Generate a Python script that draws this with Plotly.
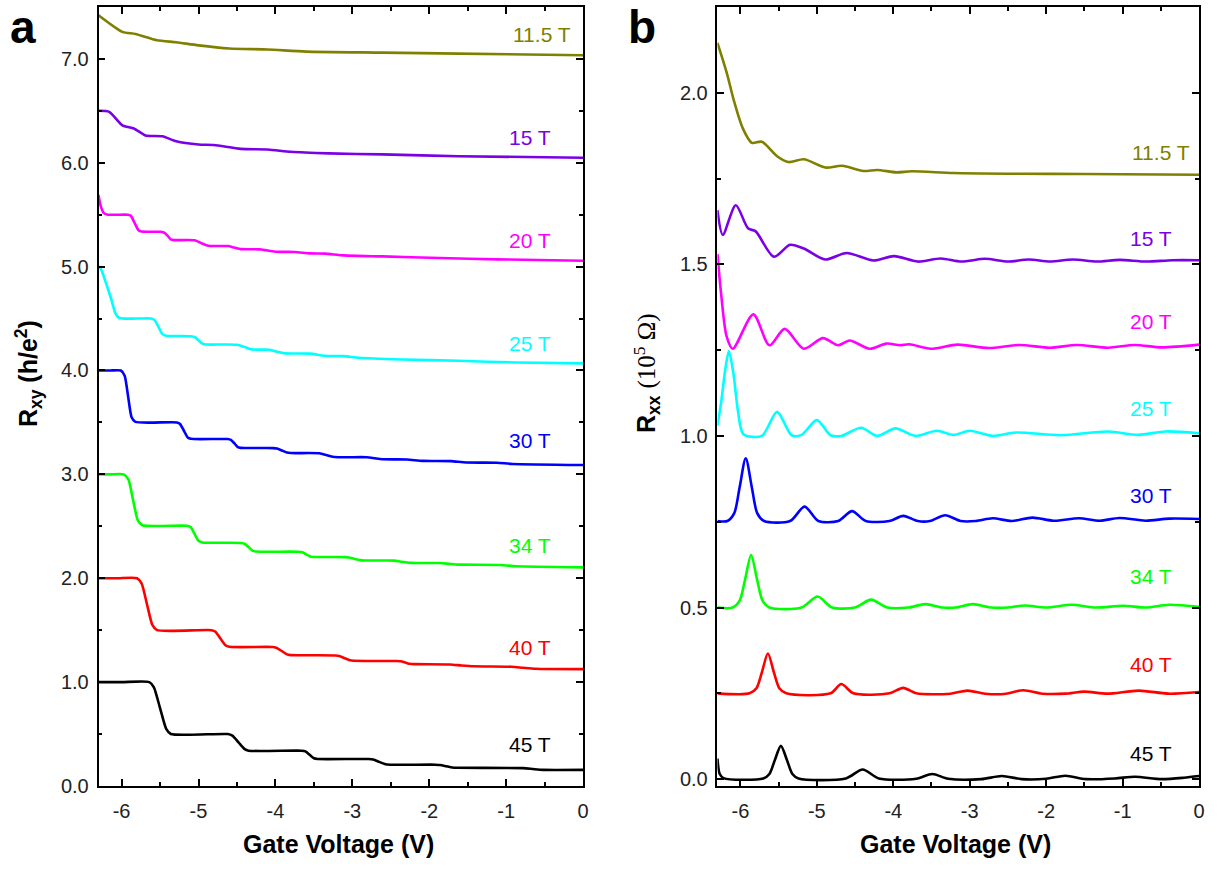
import plotly.graph_objects as go

# ---------------- Panel a : Rxy (h/e^2), offset curves ----------------
fields = ["11.5 T", "15 T", "20 T", "25 T", "30 T", "34 T", "40 T", "45 T"]
colors = ["#808000", "#7a00e6", "#ff00ff", "#00ffff", "#0000ff", "#00ff00", "#ff0000", "#000000"]

Va_115 = [-6.3, -5.99, -5.82, -5.54, -5.29, -5.0, -4.6, -4.1, -3.6, -2.61, -1.62, 0.0]
Ra_115 = [7.42, 7.26, 7.24, 7.18, 7.16, 7.13, 7.10, 7.09, 7.07, 7.06, 7.05, 7.035]

Va_15 = [-6.3, -6.16, -5.99, -5.84, -5.69, -5.47, -5.29, -5.0, -4.8, -4.45, -4.1, -3.8, -3.31, -2.61, -1.62, 0.0]
Ra_15 = [6.50, 6.49, 6.36, 6.33, 6.263, 6.255, 6.206, 6.175, 6.17, 6.133, 6.128, 6.105, 6.09, 6.08, 6.063, 6.048]

Va_20 = [-6.3, -6.27, -6.23, -6.18, -5.92, -5.88, -5.83, -5.78, -5.74, -5.49, -5.44, -5.40, -5.36, -5.32,
         -5.05, -4.96, -4.87, -4.62, -4.535, -4.45, -4.20, -4.00, -3.75, -3.55, -3.36, -3.11, -2.61, -1.86, -1.12, 0.0]
Ra_20 = [5.69, 5.58, 5.515, 5.50, 5.50, 5.49, 5.42, 5.35, 5.337, 5.335, 5.325, 5.295, 5.262, 5.255,
         5.253, 5.225, 5.20, 5.198, 5.183, 5.168, 5.166, 5.143, 5.141, 5.127, 5.125, 5.108, 5.098, 5.083, 5.07, 5.057]

Va_25 = [-6.3, -6.27, -6.22, -6.14, -6.08, -6.03, -5.80, -5.62, -5.57, -5.52, -5.47, -5.42,
         -5.10, -5.05, -5.00, -4.95, -4.90, -4.50, -4.40, -4.30, -4.08, -3.98, -3.88,
         -3.55, -3.36, -3.11, -2.91, -2.36, -1.62, -0.87, 0.0]
Ra_25 = [5.0, 4.98, 4.88, 4.70, 4.55, 4.505, 4.50, 4.50, 4.485, 4.42, 4.35, 4.335,
         4.33, 4.322, 4.29, 4.258, 4.25, 4.248, 4.225, 4.202, 4.20, 4.18, 4.165,
         4.162, 4.142, 4.138, 4.122, 4.106, 4.093, 4.077, 4.068]

Va_30 = [-6.3, -6.15, -6.01, -5.96, -5.915, -5.87, -5.82, -5.28, -5.24, -5.19, -5.14, -5.10,
         -4.62, -4.58, -4.535, -4.49, -4.45, -4.03, -3.98, -3.915, -3.85, -3.80,
         -3.43, -3.33, -3.23, -2.81, -2.71, -2.61, -2.29, -2.09, -1.72, -1.52, -1.12, -0.92, 0.0]
Ra_30 = [4.0, 4.0, 4.0, 3.95, 3.75, 3.55, 3.505, 3.50, 3.485, 3.42, 3.355, 3.342,
         3.34, 3.332, 3.30, 3.263, 3.255, 3.253, 3.248, 3.23, 3.21, 3.205,
         3.203, 3.185, 3.167, 3.165, 3.155, 3.145, 3.143, 3.13, 3.127, 3.114, 3.112, 3.10, 3.09]

Va_34 = [-6.3, -6.15, -5.97, -5.91, -5.85, -5.79, -5.73, -5.15, -5.10, -5.05, -5.00, -4.95,
         -4.45, -4.40, -4.35, -4.30, -4.25, -3.70, -3.65, -3.60, -3.55, -3.50,
         -3.08, -2.98, -2.88, -2.46, -2.36, -2.26, -1.86, -1.74, -1.62, -1.07, -0.87, 0.0]
Ra_34 = [3.0, 3.0, 3.0, 2.95, 2.75, 2.56, 2.51, 2.505, 2.49, 2.425, 2.36, 2.345,
         2.34, 2.332, 2.30, 2.265, 2.257, 2.255, 2.25, 2.23, 2.21, 2.205,
         2.203, 2.188, 2.172, 2.17, 2.159, 2.148, 2.146, 2.138, 2.131, 2.128, 2.115, 2.105]

Va_40 = [-6.3, -6.05, -5.80, -5.74, -5.67, -5.60, -5.54, -4.83, -4.78, -4.715, -4.65, -4.60,
         -4.04, -3.99, -3.92, -3.85, -3.80, -3.22, -3.17, -3.10, -3.03, -2.98,
         -2.42, -2.37, -2.31, -2.25, -2.20, -1.73, -1.58, -1.42, -0.93, -0.78, -0.62, 0.0]
Ra_40 = [2.0, 2.0, 2.0, 1.95, 1.75, 1.55, 1.5, 1.5, 1.485, 1.42, 1.355, 1.34,
         1.338, 1.33, 1.30, 1.267, 1.26, 1.257, 1.252, 1.23, 1.21, 1.205,
         1.203, 1.20, 1.188, 1.176, 1.173, 1.17, 1.16, 1.152, 1.148, 1.138, 1.128, 1.125]

Va_45 = [-6.3, -6.0, -5.64, -5.58, -5.50, -5.42, -5.36, -4.62, -4.56, -4.48, -4.40, -4.35,
         -3.66, -3.61, -3.555, -3.50, -3.45, -2.79, -2.73, -2.65, -2.57, -2.51,
         -1.92, -1.86, -1.78, -1.70, -1.64, -0.78, -0.65, -0.52, 0.0]
Ra_45 = [1.0, 1.0, 1.0, 0.95, 0.75, 0.55, 0.5, 0.5, 0.485, 0.42, 0.355, 0.34,
         0.34, 0.333, 0.30, 0.267, 0.26, 0.26, 0.255, 0.232, 0.21, 0.205,
         0.205, 0.202, 0.19, 0.178, 0.175, 0.172, 0.163, 0.155, 0.155]

# label positions panel a (x, y)
lab_a_x = [-0.53, -0.69, -0.69, -0.69, -0.69, -0.69, -0.69, -0.69]
lab_a_y = [7.23, 6.24, 5.25, 4.26, 3.33, 2.32, 1.33, 0.40]

# ---------------- Panel b : Rxx (1e5 Ohm), offset curves ----------------
Vb_115 = [-6.3, -6.18, -6.08, -5.97, -5.85, -5.72, -5.52, -5.37, -5.17, -4.89, -4.67, -4.39, -4.21, -3.96, -3.76, -3.21, -2.5, -1.5, 0.0]
Rb_115 = [2.145, 2.059, 1.973, 1.897, 1.854, 1.857, 1.815, 1.798, 1.806, 1.782, 1.787, 1.772, 1.775, 1.768, 1.771, 1.766, 1.764, 1.763, 1.761]

Vb_15 = [-6.3, -6.23, -6.06, -5.90, -5.80, -5.56, -5.35, -5.17, -4.89, -4.61, -4.26, -3.99, -3.68, -3.38, -3.11, -2.80, -2.50, -2.23, -1.95, -1.65, -1.34, -1.04, -0.69, -0.35, 0.0]
Rb_15 = [1.658, 1.586, 1.672, 1.605, 1.596, 1.522, 1.557, 1.546, 1.514, 1.533, 1.511, 1.524, 1.508, 1.517, 1.508, 1.516, 1.508, 1.514, 1.508, 1.514, 1.508, 1.513, 1.508, 1.512, 1.512]

Vb_20 = [-6.3, -6.25, -6.18, -6.10, -5.83, -5.62, -5.42, -5.17, -4.92, -4.72, -4.57, -4.31, -4.09, -3.91, -3.79, -3.51, -3.16, -2.75, -2.35, -1.95, -1.60, -1.19, -0.84, -0.49, 0.0]
Rb_20 = [1.53, 1.41, 1.29, 1.254, 1.354, 1.264, 1.312, 1.254, 1.285, 1.264, 1.278, 1.254, 1.269, 1.264, 1.267, 1.254, 1.266, 1.256, 1.265, 1.257, 1.265, 1.257, 1.265, 1.258, 1.266]

Vb_25 = [-6.3, -6.25, -6.20, -6.15, -6.09, -6.03, -5.96, -5.72, -5.52, -5.33, -5.20, -5.00, -4.82, -4.68, -4.42, -4.21, -3.97, -3.71, -3.43, -3.21, -3.00, -2.70, -2.40, -1.80, -1.19, -0.80, -0.44, 0.0]
Rb_25 = [1.03, 1.10, 1.19, 1.247, 1.18, 1.07, 1.005, 1.0, 1.07, 1.002, 1.003, 1.046, 1.002, 1.0, 1.024, 1.0, 1.022, 1.0, 1.015, 1.003, 1.015, 1.0, 1.01, 1.002, 1.013, 1.003, 1.013, 1.008]

Vb_30 = [-6.3, -6.17, -6.08, -6.01, -5.93, -5.85, -5.78, -5.69, -5.35, -5.16, -4.98, -4.72, -4.54, -4.36, -4.05, -3.87, -3.68, -3.52, -3.32, -3.12, -2.92, -2.70, -2.45, -2.18, -1.90, -1.57, -1.30, -1.04, -0.70, -0.39, 0.0]
Rb_30 = [0.752, 0.752, 0.775, 0.85, 0.935, 0.85, 0.775, 0.752, 0.752, 0.794, 0.752, 0.752, 0.781, 0.752, 0.752, 0.767, 0.752, 0.752, 0.769, 0.752, 0.752, 0.76, 0.752, 0.762, 0.753, 0.76, 0.753, 0.761, 0.753, 0.759, 0.758]

Vb_34 = [-6.3, -6.10, -6.01, -5.94, -5.86, -5.78, -5.71, -5.62, -5.20, -4.99, -4.80, -4.50, -4.29, -4.08, -3.80, -3.58, -3.36, -3.18, -2.96, -2.72, -2.50, -2.28, -2.0, -1.67, -1.35, -0.99, -0.70, -0.39, 0.0]
Rb_34 = [0.5, 0.5, 0.52, 0.58, 0.653, 0.58, 0.52, 0.5, 0.5, 0.532, 0.5, 0.5, 0.523, 0.5, 0.5, 0.51, 0.5, 0.5, 0.51, 0.5, 0.5, 0.506, 0.5, 0.508, 0.5, 0.505, 0.5, 0.508, 0.502]

Vb_40 = [-6.3, -5.88, -5.79, -5.72, -5.64, -5.56, -5.49, -5.40, -4.82, -4.68, -4.52, -4.05, -3.87, -3.70, -3.25, -3.03, -2.80, -2.55, -2.30, -2.05, -1.75, -1.50, -1.20, -0.79, -0.40, 0.0]
Rb_40 = [0.25, 0.25, 0.265, 0.31, 0.366, 0.31, 0.265, 0.25, 0.25, 0.277, 0.25, 0.25, 0.266, 0.25, 0.249, 0.258, 0.249, 0.248, 0.259, 0.249, 0.249, 0.255, 0.249, 0.258, 0.249, 0.254]

Vb_45 = [-6.3, -6.27, -6.22, -5.70, -5.62, -5.55, -5.47, -5.39, -5.32, -5.24, -4.62, -4.40, -4.19, -3.70, -3.49, -3.28, -2.85, -2.58, -2.32, -2.00, -1.75, -1.48, -1.10, -0.84, -0.49, -0.20, 0.0]
Rb_45 = [0.06, 0.015, 0.003, 0.002, 0.015, 0.055, 0.097, 0.055, 0.015, 0.002, 0.002, 0.028, 0.002, 0.001, 0.015, 0.001, 0.0, 0.009, 0.0, 0.001, 0.01, 0.0, 0.002, 0.007, 0.0, 0.004, 0.009]

lab_b_x = [-0.50, -0.63, -0.63, -0.63, -0.63, -0.63, -0.63, -0.63]
lab_b_y = [1.825, 1.575, 1.333, 1.079, 0.826, 0.589, 0.334, 0.076]

# ticks
x_ticks = [-6, -5, -4, -3, -2, -1, 0]
x_tick_text = ["-6", "-5", "-4", "-3", "-2", "-1", "0"]
ya_ticks = [0, 1, 2, 3, 4, 5, 6, 7]
ya_tick_text = ["0.0", "1.0", "2.0", "3.0", "4.0", "5.0", "6.0", "7.0"]
yb_ticks = [0, 0.5, 1.0, 1.5, 2.0]
yb_tick_text = ["0.0", "0.5", "1.0", "1.5", "2.0"]

panel_a = [(Va_115, Ra_115), (Va_15, Ra_15), (Va_20, Ra_20), (Va_25, Ra_25),
           (Va_30, Ra_30), (Va_34, Ra_34), (Va_40, Ra_40), (Va_45, Ra_45)]
panel_b = [(Vb_115, Rb_115), (Vb_15, Rb_15), (Vb_20, Rb_20), (Vb_25, Rb_25),
           (Vb_30, Rb_30), (Vb_34, Rb_34), (Vb_40, Rb_40), (Vb_45, Rb_45)]

FONT = "Arial, Liberation Sans, sans-serif"
W, H = 1217, 875
fig = go.Figure()
for (v, r), c, n in zip(panel_a, colors, fields):
    fig.add_trace(go.Scatter(x=v, y=r, mode="lines", name=n, xaxis="x", yaxis="y",
                             line=dict(color=c, width=2.6, shape="spline", smoothing=0.6),
                             showlegend=False))
for (v, r), c, n in zip(panel_b, colors, fields):
    fig.add_trace(go.Scatter(x=v, y=r, mode="lines", name=n, xaxis="x2", yaxis="y2",
                             line=dict(color=c, width=2.6, shape="spline", smoothing=0.8),
                             showlegend=False))

ann = []
for x, y, t, c in zip(lab_a_x, lab_a_y, fields, colors):
    ann.append(dict(x=x, y=y, xref="x", yref="y", text=t, showarrow=False,
                    xanchor="center", yanchor="middle",
                    font=dict(family=FONT, size=21, color=c)))
for x, y, t, c in zip(lab_b_x, lab_b_y, fields, colors):
    ann.append(dict(x=x, y=y, xref="x2", yref="y2", text=t, showarrow=False,
                    xanchor="center", yanchor="middle",
                    font=dict(family=FONT, size=21, color=c)))

def pann(px, py, text, size, angle=0):
    return dict(x=px / W, y=1 - py / H, xref="paper", yref="paper", text=text, showarrow=False,
                xanchor="center", yanchor="middle", textangle=angle,
                font=dict(family=FONT, size=size, color="black"))

ann += [
    pann(23, 27, "<b>a</b>", 46),
    pann(645, 27, "<b>b</b>", 46),
    pann(340, 855, "<b>Gate Voltage (V)</b>", 25),
    pann(960, 855, "<b>Gate Voltage (V)</b>", 25),
    pann(29, 378, "<b>R<sub>xy</sub> (h/e<sup>2</sup>)</b>", 25, -90),
    pann(650, 378, "<b>R<sub>xx</sub></b> <span style=\"font-family:'Liberation Serif', 'Times New Roman', serif\">(10<sup>5</sup> Ω)</span>", 25, -90),
]

def xax(domain, anchor):
    return dict(domain=domain, anchor=anchor, range=[-6.3, 0.0], tickmode="array",
                tickvals=x_ticks, ticktext=x_tick_text, showline=True, linecolor="black",
                linewidth=1.5, mirror="allticks", ticks="inside", ticklen=7, tickwidth=1.5,
                tickcolor="black", showgrid=False, zeroline=False, ticklabelstandoff=6,
                tickfont=dict(family=FONT, size=20, color="#222"),
                minor=dict(ticks="inside", ticklen=4, tickwidth=1.5, tickcolor="black",
                           tickmode="linear", tick0=0, dtick=0.5, showgrid=False))

def yax(domain, anchor, rng, vals, text, mdt):
    return dict(domain=domain, anchor=anchor, range=rng, tickmode="array",
                tickvals=vals, ticktext=text, showline=True, linecolor="black",
                linewidth=1.5, mirror="allticks", ticks="inside", ticklen=7, tickwidth=1.5,
                tickcolor="black", showgrid=False, zeroline=False, ticklabelstandoff=4,
                tickfont=dict(family=FONT, size=20, color="#222"),
                minor=dict(ticks="inside", ticklen=4, tickwidth=1.5, tickcolor="black",
                           tickmode="linear", tick0=0, dtick=mdt, showgrid=False))

ydom = [1 - 796 / H, 1 - 7 / H]
fig.update_layout(
    width=W, height=H, margin=dict(l=0, r=0, t=0, b=0),
    paper_bgcolor="white", plot_bgcolor="white",
    xaxis=xax([99 / W, 586 / W], "y"),
    yaxis=yax(ydom, "x", [0, 7.5], ya_ticks, ya_tick_text, 0.5),
    xaxis2=xax([721 / W, 1205 / W], "y2"),
    yaxis2=yax(ydom, "x2", [-0.02, 2.25], yb_ticks, yb_tick_text, 0.25),
    annotations=ann,
)

fig.write_html("out.html", config={"displayModeBar": False},
               post_script="document.body.style.margin='0px';")
